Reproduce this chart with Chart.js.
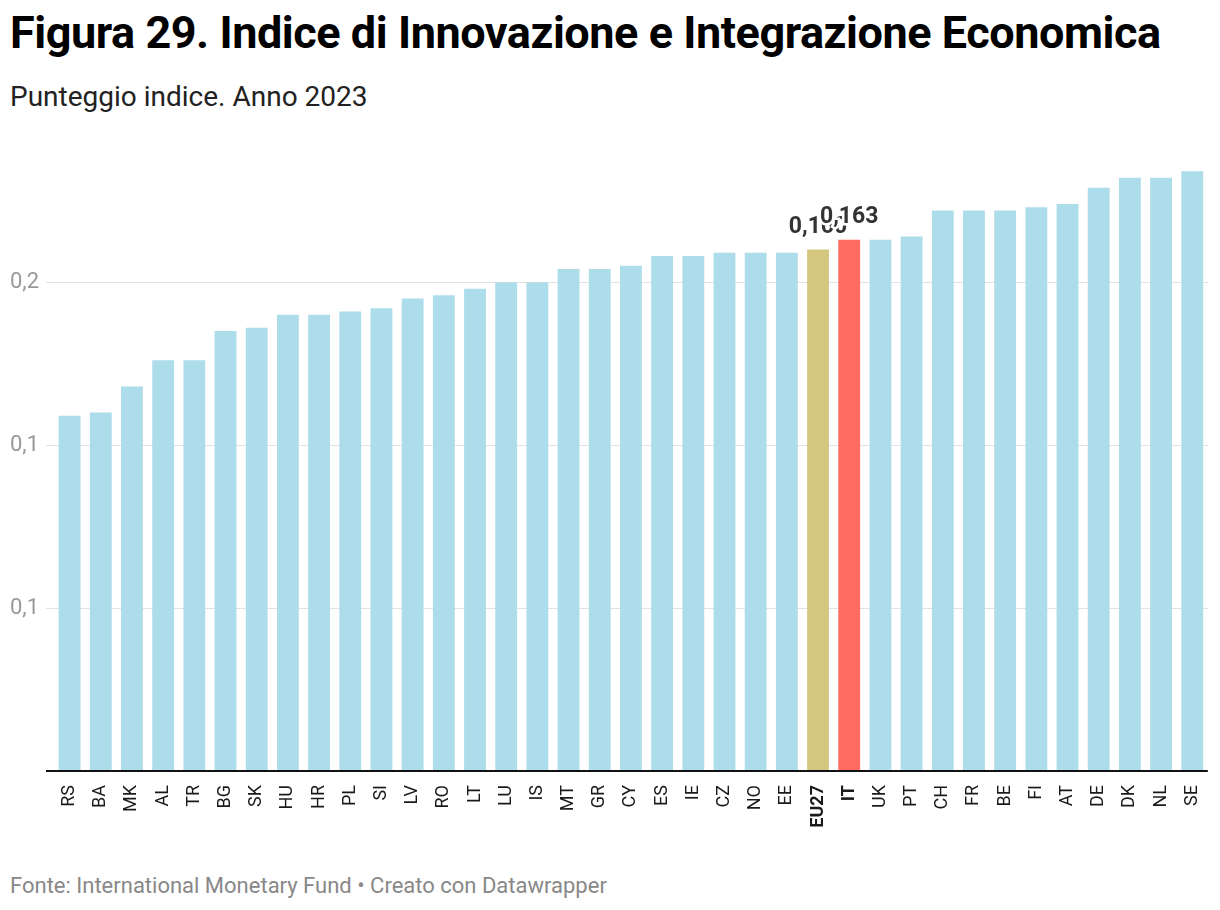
<!DOCTYPE html>
<html>
<head>
<meta charset="utf-8">
<script src="https://cdn.jsdelivr.net/npm/chart.js@4.4.1/dist/chart.umd.min.js"></script>
<style>
  body { margin: 0; background: #fff; font-family: Roboto, sans-serif; }
  #wrap { position: relative; width: 1220px; height: 910px; }
  h1 { position: absolute; left: 10px; top: 6px; margin: 0; font-size: 45px; font-weight: 700; color: #000; letter-spacing: -0.45px; }
  .sub { position: absolute; left: 10px; top: 80px; font-size: 28px; color: #222; }
  .src { position: absolute; left: 10px; top: 873px; font-size: 22px; color: #888; }
  #box { position: absolute; left: 0; top: 119px; width: 1220px; height: 712px; }
</style>
</head>
<body>
<div id="wrap">
  <h1>Figura 29. Indice di Innovazione e Integrazione Economica</h1>
  <div class="sub">Punteggio indice. Anno 2023</div>
  <div id="box"><canvas id="myChart" width="1220" height="712"></canvas></div>
  <div class="src">Fonte: International Monetary Fund • Creato con Datawrapper</div>
</div>
<script>
var paesi = ['RS','BA','MK','AL','TR','BG','SK','HU','HR','PL','SI','LV','RO','LT','LU','IS','MT','GR','CY','ES','IE','CZ','NO','EE','EU27','IT','UK','PT','CH','FR','BE','FI','AT','DE','DK','NL','SE'];
var valori = [0.109,0.110,0.118,0.126,0.126,0.135,0.136,0.140,0.140,0.141,0.142,0.145,0.146,0.148,0.150,0.150,0.154,0.154,0.155,0.158,0.158,0.159,0.159,0.159,0.160,0.163,0.163,0.164,0.172,0.172,0.172,0.173,0.174,0.179,0.182,0.182,0.184];
var tickY = [0, 0.05, 0.1, 0.15];
var evidenziati = { 'EU27': '#d3c77f', 'IT': '#ff6b61' };

var colori = paesi.map(function (p) { return evidenziati[p] || '#addcea'; });

// etichette valore sopra EU27 e IT
var etichette = {
    id: 'etichette',
    afterDatasetsDraw: function (chart) {
        var ctx = chart.ctx;
        var meta = chart.getDatasetMeta(0);
        ctx.save();
        ctx.font = 'bold 23px Roboto';
        ctx.textAlign = 'center';
        ctx.textBaseline = 'alphabetic';
        ['EU27', 'IT'].forEach(function (p) {
            var i = paesi.indexOf(p);
            var bar = meta.data[i];
            var txt = valori[i].toFixed(3).replace('.', ',');
            ctx.lineWidth = 5;
            ctx.strokeStyle = '#fff';
            ctx.strokeText(txt, bar.x, bar.y - 17);
            ctx.fillStyle = '#333';
            ctx.fillText(txt, bar.x, bar.y - 17);
        });
        ctx.restore();
    }
};

var ctx = document.getElementById('myChart');
var myChart = new Chart(ctx, {
    type: 'bar',
    data: {
        labels: paesi,
        datasets: [{
            data: valori,
            backgroundColor: colori,
            barPercentage: 0.7,
            categoryPercentage: 1
        }]
    },
    options: {
        responsive: false,
        animation: false,
        devicePixelRatio: 1,
        layout: { padding: { left: 10, right: 10, top: 0, bottom: 0 } },
        plugins: { legend: { display: false }, tooltip: { enabled: false } },
        scales: {
            x: {
                afterFit: function (s) { s.height = 60; },
                grid: { display: false },
                border: { display: false },
                ticks: {
                    autoSkip: false,
                    minRotation: 90,
                    maxRotation: 90,
                    padding: 6,
                    color: '#1a1a1a',
                    font: function (c) {
                        var p = paesi[c.index];
                        return { family: 'Roboto', size: 18, weight: (p === 'EU27' || p === 'IT') ? 'bold' : 'normal' };
                    }
                }
            },
            y: {
                min: 0,
                max: 0.1954,
                afterBuildTicks: function (s) {
                    s.ticks = tickY.map(function (v) { return { value: v }; });
                },
                afterFit: function (s) { s.width = 44; },
                border: { display: false },
                grid: {
                    color: function (c) { return c.tick && c.tick.value === 0 ? '#111' : '#e2e2e2'; },
                    lineWidth: function (c) { return c.tick && c.tick.value === 0 ? 2 : 1; },
                    tickLength: 8
                },
                ticks: {
                    crossAlign: 'far',
                    padding: 2,
                    color: '#999',
                    font: { family: 'Roboto', size: 22 },
                    callback: function (v) { return v === 0 ? '' : (Math.round(v * 10) / 10).toFixed(1).replace('.', ','); }
                }
            }
        }
    },
    plugins: [etichette]
});
</script>
</body>
</html>
